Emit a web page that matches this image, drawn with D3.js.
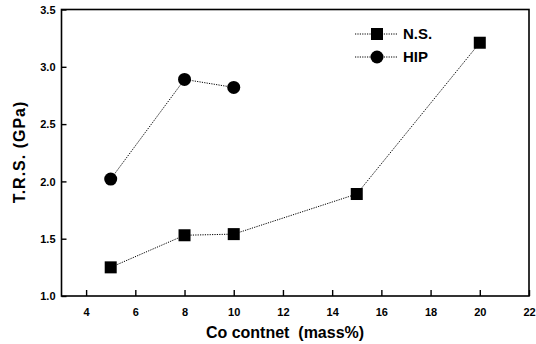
<!DOCTYPE html>
<html>
<head>
<script src="https://d3js.org/d3.v7.min.js"></script>
<style>
  body { margin: 0; background: #fff; }
  text { font-family: Arial, "Liberation Sans", sans-serif; font-weight: bold; fill: #000; }
</style>
</head>
<body>
<script>
var xTicks = [4, 6, 8, 10, 12, 14, 16, 18, 20, 22];
var yTicks = [1.0, 1.5, 2.0, 2.5, 3.0, 3.5];

var nsCo = [5, 8, 10, 15, 20];
var nsTrs = [1.25, 1.53, 1.54, 1.89, 3.21];
var hipCo = [5, 8, 10];
var hipTrs = [2.02, 2.89, 2.82];

var svg = d3.select("body").append("svg")
    .attr("width", 536)
    .attr("height", 344);

var x = d3.scaleLinear().domain([3, 22]).range([61.5, 529]);
var y = d3.scaleLinear().domain([1.0, 3.5]).range([296, 9.5]);

// frame
svg.append("rect")
    .attr("x", x(3)).attr("y", y(3.5))
    .attr("width", x(22) - x(3)).attr("height", y(1.0) - y(3.5))
    .attr("fill", "none").attr("stroke", "#000").attr("stroke-width", 1.6);

var xAxis = svg.append("g")
    .attr("transform", "translate(0," + y(1.0) + ")")
    .call(d3.axisTop(x).tickValues(xTicks).tickSize(6).tickFormat(d3.format("d")));
xAxis.select(".domain").remove();
xAxis.selectAll("line").attr("stroke-width", 1.4);
xAxis.selectAll("text")
    .attr("y", 12).attr("dy", "0.71em")
    .style("font-size", "11px");

var yAxis = svg.append("g")
    .attr("transform", "translate(" + x(3) + ",0)")
    .call(d3.axisRight(y).tickValues(yTicks).tickSize(5).tickFormat(d3.format(".1f")));
yAxis.select(".domain").remove();
yAxis.selectAll("line").attr("stroke-width", 1.4);
yAxis.selectAll("text")
    .attr("x", -6).attr("dy", "0.35em")
    .style("text-anchor", "end")
    .style("font-size", "11px");

var line = d3.line()
    .x(function(d) { return x(d[0]); })
    .y(function(d) { return y(d[1]); });

var ns = d3.zip(nsCo, nsTrs);
var hip = d3.zip(hipCo, hipTrs);

[ns, hip].forEach(function(s) {
    svg.append("path")
        .datum(s)
        .attr("d", line)
        .attr("fill", "none")
        .attr("stroke", "#000")
        .attr("stroke-width", 1)
        .attr("stroke-dasharray", "1.2,1.2");
});

svg.selectAll("rect.ns")
    .data(ns).enter().append("rect")
    .attr("class", "ns")
    .attr("x", function(d) { return x(d[0]) - 6; })
    .attr("y", function(d) { return y(d[1]) - 6; })
    .attr("width", 12).attr("height", 12)
    .attr("fill", "#000");

svg.selectAll("circle.hip")
    .data(hip).enter().append("circle")
    .attr("class", "hip")
    .attr("cx", function(d) { return x(d[0]); })
    .attr("cy", function(d) { return y(d[1]); })
    .attr("r", 6.5)
    .attr("fill", "#000");

// legend
var legend = [["N.S.", "square", 34], ["HIP", "circle", 57]];
legend.forEach(function(l) {
    var g = svg.append("g");
    g.append("line")
        .attr("x1", 355).attr("x2", 398).attr("y1", l[2]).attr("y2", l[2])
        .attr("stroke", "#000").attr("stroke-width", 1).attr("stroke-dasharray", "1.2,1.2");
    if (l[1] === "square") {
        g.append("rect").attr("x", 371).attr("y", l[2] - 6).attr("width", 12).attr("height", 12);
    } else {
        g.append("circle").attr("cx", 377).attr("cy", l[2]).attr("r", 6.5);
    }
    g.append("text").attr("x", 403).attr("y", l[2]).attr("dy", "0.36em")
        .style("font-size", "15px").text(l[0]);
});

svg.append("text")
    .attr("transform", "translate(19,152) rotate(-90)")
    .attr("text-anchor", "middle")
    .attr("dy", "0.36em")
    .style("font-size", "16px")
    .style("letter-spacing", "1px")
    .text("T.R.S. (GPa)");

svg.append("text")
    .attr("x", 285).attr("y", 332)
    .attr("dy", "0.36em")
    .attr("text-anchor", "middle")
    .style("font-size", "16px")
    .style("white-space", "pre")
    .text("Co contnet  (mass%)");
</script>
</body>
</html>
